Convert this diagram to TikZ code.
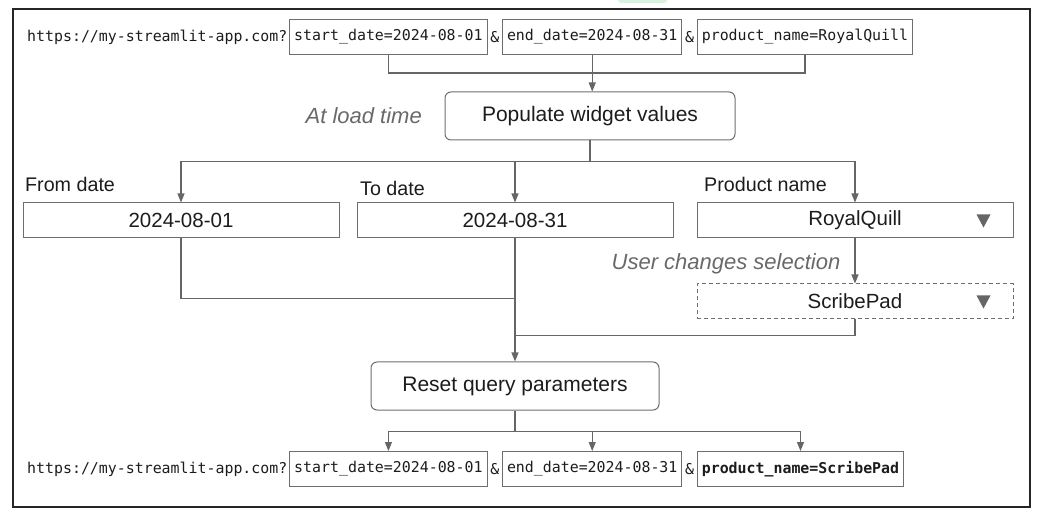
\documentclass[tikz,border=0pt]{standalone}
\usepackage{fontspec}
\setmainfont{Liberation Sans}
\setmonofont{DejaVu Sans Mono}
\usetikzlibrary{arrows.meta,positioning}
\definecolor{linegray}{RGB}{102,102,102}
\definecolor{boxgray}{RGB}{110,110,110}
\definecolor{notegray}{RGB}{105,105,105}
\definecolor{inkblack}{RGB}{28,28,28}
\definecolor{tabgreen}{RGB}{214,243,222}
\begin{document}
\begin{tikzpicture}[x=1pt,y=-1pt,node distance=2.5pt,>={Triangle[length=9pt,width=7pt]},
  every node/.style={text=inkblack},
  urltext/.style={font=\fontsize{14.9}{16}\ttfamily,inner sep=0pt},
  amp/.style={font=\fontsize{14.9}{16}\ttfamily,inner sep=0pt},
  param/.style={draw=boxgray,line width=1pt,font=\fontsize{14.9}{16}\ttfamily,inner xsep=4.5pt,minimum height=35pt},
  procbox/.style={draw=boxgray,line width=1pt,rounded corners=6pt,font=\fontsize{21}{24}\selectfont,minimum width=290pt,minimum height=48pt},
  widget/.style={draw=boxgray,line width=1pt,font=\fontsize{20.5}{24}\selectfont,minimum width=316pt,minimum height=35pt},
  fieldlbl/.style={font=\fontsize{19.7}{22}\selectfont,inner sep=0pt,anchor=base west},
  note/.style={font=\fontsize{22}{24}\selectfont\itshape,text=notegray,inner sep=0pt},
  wire/.style={draw=linegray,line width=1.1pt}]
\useasboundingbox (0,0) rectangle (1042,521);
\fill[tabgreen,rounded corners=3pt] (618,-6) rectangle (667,3);
\draw[line width=2.5pt,black!85] (13,9) rectangle (1030,507);
% query string at load
\node[urltext,anchor=west] (url) at (27,37) {https://my-streamlit-app.com?};
\node[param,right=1.7pt of url] (start) {start\_date=2024-08-01};
\node[amp,right=of start] (amp1) {\&};
\node[param,right=of amp1] (end) {end\_date=2024-08-31};
\node[amp,right=of end] (amp2) {\&};
\node[param,right=of amp2] (prod) {product\_name=RoyalQuill};
\node[procbox] (pop) at (590,116) {Populate widget values};
\node[note,anchor=east] (loadnote) at (422,116) {At load time};
\draw[wire] (start.south) -- ++(0,18) -| (prod.south);
\draw[wire,->] (end.south) -- (end.south |- pop.north);
% widgets
\node[widget] (from) at (181,220.5) {2024-08-01};
\node[widget] (to) at (515,220.5) {2024-08-31};
\node[widget] (pick) at (855,220.5) {RoyalQuill};
\node[widget,dash pattern=on 4pt off 3pt] (newpick) at (855,301.5) {ScribePad};
\node[fieldlbl] (fromlbl) at (25,192) {From date};
\node[fieldlbl] (tolbl) at (360,196) {To date};
\node[fieldlbl] (picklbl) at (704,192) {Product name};
\node[note] (usernote) at (726,264) {User changes selection};
\fill[linegray] (pick.east) ++(-37,-6) -- ++(14,0) -- ++(-7,13) -- cycle;
\fill[linegray] (newpick.east) ++(-37,-6) -- ++(14,0) -- ++(-7,13) -- cycle;
\foreach \w in {from,to,pick}
  \draw[wire,->] (pop.south) -- ++(0,21) -| (\w.north);
\draw[wire,->] (pick.south) -- (newpick.north);
% reset
\node[procbox,minimum width=288pt] (reset) at (515,386) {Reset query parameters};
\draw[wire] (from.south) -- ++(0,60) -| (to.south);
\draw[wire] (newpick.south) -- ++(0,16) -| (to.south);
\draw[wire,->] (to.south) -- (reset.north);
% query string after reset
\node[urltext,anchor=west] (url2) at (27,469) {https://my-streamlit-app.com?};
\node[param,right=1.7pt of url2] (start2) {start\_date=2024-08-01};
\node[amp,right=of start2] (amp3) {\&};
\node[param,right=of amp3] (end2) {end\_date=2024-08-31};
\node[amp,right=of end2] (amp4) {\&};
\node[param,right=of amp4,font=\fontsize{14.9}{16}\ttfamily\bfseries] (prod2) {product\_name=ScribePad};
\foreach \p in {start2,end2,prod2}
  \draw[wire,->] (reset.south) -- ++(0,21) -| (\p.north);
\end{tikzpicture}
\end{document}
